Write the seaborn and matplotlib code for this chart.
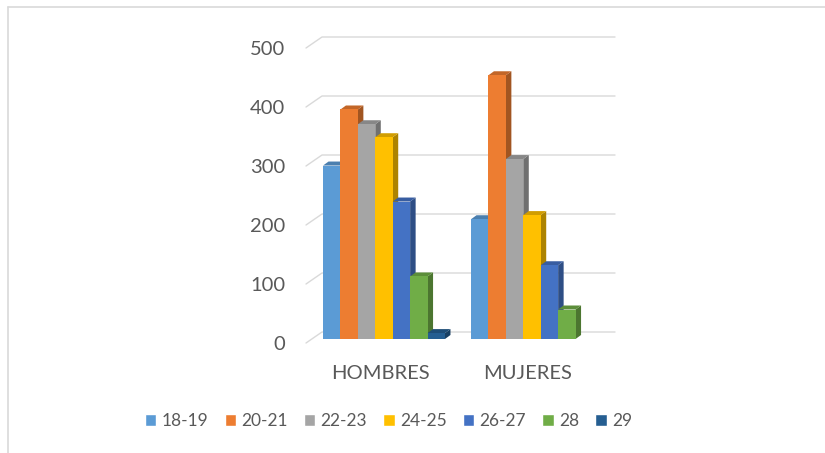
import pandas as pd
import seaborn as sns
import matplotlib.pyplot as plt
from matplotlib.patches import Polygon
from matplotlib.lines import Line2D
from matplotlib.transforms import ScaledTranslation
import matplotlib.colors as mcolors

# data
grupos = ['HOMBRES', 'MUJERES']
edades = ['18-19', '20-21', '22-23', '24-25', '26-27', '28', '29']
hombres = [294, 389, 364, 342, 233, 106, 10]
mujeres = [203, 447, 305, 210, 125, 50, 0]
colores = ['#5B9BD5', '#ED7D31', '#A5A5A5', '#FFC000', '#4472C4', '#70AD47', '#255E91']
yticks = [0, 100, 200, 300, 400, 500]

df = pd.DataFrame({
    'grupo': [grupos[0]] * len(edades) + [grupos[1]] * len(edades),
    'edad': edades + edades,
    'n': hombres + mujeres,
})

sns.set_style('white')
plt.rcParams['font.family'] = ['Lato', 'DejaVu Sans']
texto = '#595959'
grid_col = '#D9D9D9'

fig = plt.figure(figsize=(8.25, 4.53), dpi=100)
W, H = 825, 453
# axes = front plane of the bars (pixels from the reference)
ax_l, ax_r, ax_t, ax_b = 306, 615, 44, 339
ax = fig.add_axes([ax_l / W, 1 - ax_b / H, (ax_r - ax_l) / W, (ax_b - ax_t) / H])

sns.barplot(data=df, x='grupo', y='n', hue='edad', order=grupos, hue_order=edades,
            palette=colores, saturation=1, width=0.824, gap=0, ax=ax, legend=True)

xmin, xmax = (ax_l - 384) / 148, (ax_r - 384) / 148
ax.set_xlim(xmin, xmax)
ax.set_ylim(0, 500)
ux = (xmax - xmin) / (ax_r - ax_l)
uy = 500 / (ax_b - ax_t)

# back-wall gridlines with the floor diagonal
for v in yticks:
    ax.plot([xmin, xmin + 16 * ux, xmax],
            [v - 4 * uy, v + 7 * uy, v + 7 * uy],
            color=grid_col, lw=1, clip_on=False, zorder=0.5)

# fake 3D: side and top faces built from each drawn bar
dx, dy = 5.5 * ux, 4 * uy
bars = [b for c in ax.containers for b in c]
bars.sort(key=lambda b: b.get_x())
for i, b in enumerate(bars):
    z = 2 + i * 0.01
    b.set_zorder(z)
    b.set_edgecolor('none')
    h = b.get_height()
    if h <= 0:
        continue
    x0, x1 = b.get_x(), b.get_x() + b.get_width()
    rgb = mcolors.to_rgb(b.get_facecolor())
    side = tuple(c * 0.68 for c in rgb)
    top = tuple(c * 0.82 for c in rgb)
    ax.add_patch(Polygon([(x1, 0), (x1 + dx, dy), (x1 + dx, h + dy), (x1, h)],
                         closed=True, facecolor=side, edgecolor='none', zorder=z - 0.001))
    ax.add_patch(Polygon([(x0, h), (x0 + dx, h + dy), (x1 + dx, h + dy), (x1, h)],
                         closed=True, facecolor=top, edgecolor='none', zorder=z - 0.001))

for s in ax.spines.values():
    s.set_visible(False)
ax.set_xlabel('')
ax.set_ylabel('')
ax.set_yticks(yticks)
ax.tick_params(axis='both', length=0, labelsize=14.5, labelcolor=texto)
ax.tick_params(axis='y', pad=15)
ax.tick_params(axis='x', pad=19)
for lab in ax.get_yticklabels():
    lab.set_transform(lab.get_transform() + ScaledTranslation(0, -0.04, fig.dpi_scale_trans))
for lab in ax.get_xticklabels():
    lab.set_transform(lab.get_transform() + ScaledTranslation(-0.04, 0, fig.dpi_scale_trans))

handles, labels = ax.get_legend_handles_labels()
ax.get_legend().remove()
fig.legend(handles, labels, loc='center', bbox_to_anchor=(388.5 / W, 1 - 421 / H),
           ncol=7, frameon=False, fontsize=12.5, labelcolor=texto,
           handlelength=0.64, handleheight=0.64, handletextpad=0.3,
           columnspacing=0.95, borderaxespad=0)

# chart border (left and top visible)
fig.add_artist(Line2D([8 / W, 8 / W], [0, 1 - 7 / H], color=grid_col, lw=1.2))
fig.add_artist(Line2D([8 / W, 1], [1 - 7 / H, 1 - 7 / H], color=grid_col, lw=1.2))

fig.savefig('out.png', dpi=100)
